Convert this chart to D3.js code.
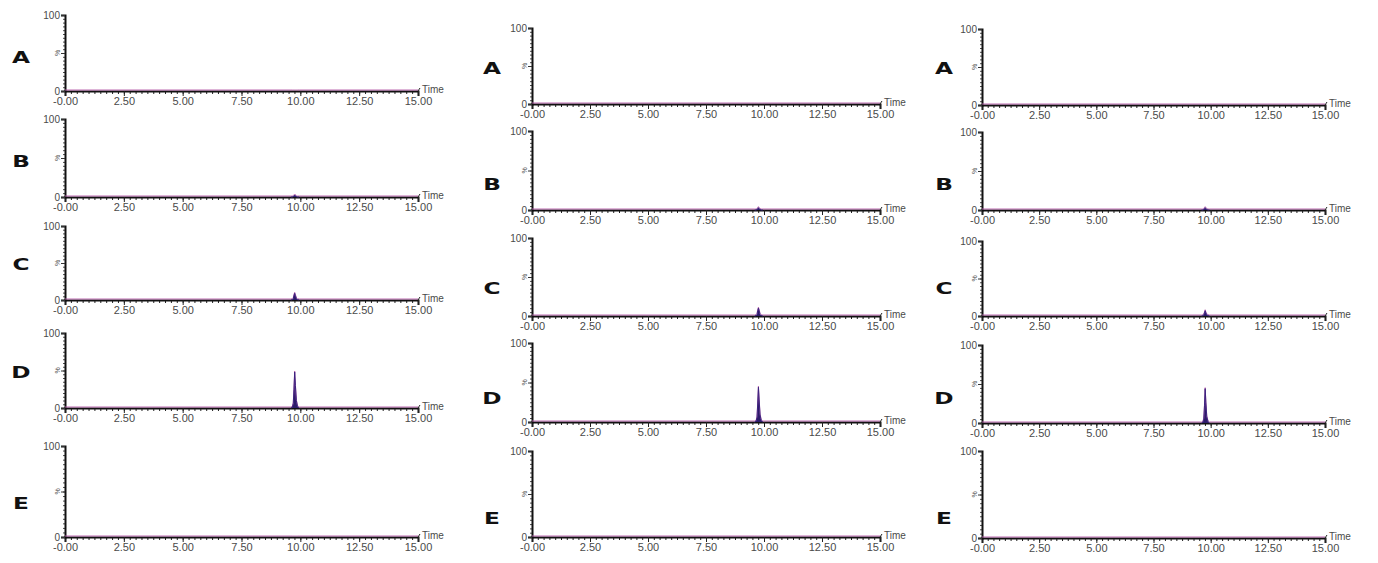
<!DOCTYPE html>
<html>
<head>
<meta charset="utf-8">
<script src="https://cdn.jsdelivr.net/npm/d3@7"></script>
<style>
  body { margin: 0; background: #fff; }
  svg { display: block; }
  .tick text { font-family: "Liberation Sans", Arial, sans-serif; fill: #4a4a4a; }
</style>
</head>
<body>
<div id="chart"></div>
<script>
// panel letters and x ticks
const panelLetters = ['A', 'B', 'C', 'D', 'E']
const timeTicks = [0, 2.5, 5, 7.5, 10, 12.5, 15]

// retention times around the peak (min)
const peakTimes = [9.60, 9.66, 9.70, 9.73, 9.76, 9.79, 9.83, 9.88, 9.95]

// relative intensity (%) per panel A..E, for each of the three columns
const leftColumn = [
  [0, 0, 0, 0, 0, 0, 0, 0, 0],
  [0, 0, 0.5, 1.5, 2.5, 1.5, 0.5, 0, 0],
  [0, 0.5, 2, 6, 9, 6, 2, 0.5, 0],
  [0, 1, 6, 25, 48, 30, 10, 2, 0],
  [0, 0, 0, 0, 0, 0, 0, 0, 0]
]
const middleColumn = [
  [0, 0, 0, 0, 0, 0, 0, 0, 0],
  [0, 0, 0.5, 2, 3, 2, 0.5, 0, 0],
  [0, 0.5, 2, 7, 10, 7, 2, 0.5, 0],
  [0, 1, 6, 24, 44, 28, 9, 2, 0],
  [0, 0, 0, 0, 0, 0, 0, 0, 0]
]
const rightColumn = [
  [0, 0, 0, 0, 0, 0, 0, 0, 0],
  [0, 0, 0.5, 2, 3, 2, 0.5, 0, 0],
  [0, 0.5, 1.5, 4, 7, 4, 1.5, 0.5, 0],
  [0, 1, 5, 22, 44, 26, 8, 2, 0],
  [0, 0, 0, 0, 0, 0, 0, 0, 0]
]
const columnsData = [leftColumn, middleColumn, rightColumn]

// layout (pixels)
const layout = [
  { x0: 65, x1: 418, labelX: 21,
    tops: [15, 119, 226, 333, 446], bases: [91, 197, 300, 408, 537],
    labelY: [57, 161, 264, 372, 503] },
  { x0: 532, x1: 880, labelX: 492,
    tops: [28, 131, 238, 343, 451], bases: [104, 210, 316, 422, 537],
    labelY: [68, 184, 288, 398, 518] },
  { x0: 982, x1: 1325, labelX: 944,
    tops: [29, 132, 241, 345, 451], bases: [105, 210, 316, 423, 538],
    labelY: [68, 184, 288, 398, 518] }
]

const svg = d3.select('#chart').append('svg')
  .attr('width', 1378)
  .attr('height', 563)

const minorTicks = d3.range(0, 61).map(i => i * 0.25)
const yMinor = d3.range(0, 21).map(i => i * 5)

columnsData.forEach((col, ci) => {
  const L = layout[ci]
  const x = d3.scaleLinear().domain([0, 15]).range([L.x0, L.x1])

  col.forEach((vals, ri) => {
    const y = d3.scaleLinear().domain([0, 100]).range([L.bases[ri], L.tops[ri]])
    const g = svg.append('g')

    // minor x ticks
    g.append('g')
      .attr('transform', `translate(0, ${L.bases[ri]})`)
      .call(d3.axisBottom(x).tickValues(minorTicks).tickSize(3).tickFormat(''))
      .call(a => a.select('.domain').remove())
      .call(a => a.selectAll('line').attr('stroke', '#222').attr('stroke-width', 1))

    // major x ticks with labels
    g.append('g')
      .attr('transform', `translate(0, ${L.bases[ri]})`)
      .call(d3.axisBottom(x).tickValues(timeTicks).tickSize(5).tickPadding(1)
        .tickFormat(d => d === 0 ? '-0.00' : d3.format('.2f')(d)))
      .call(a => a.select('.domain').attr('stroke', '#111').attr('stroke-width', 2))
      .call(a => a.selectAll('line').attr('stroke', '#222').attr('stroke-width', 1))
      .call(a => a.selectAll('text').attr('font-size', 11))

    // small hook at the end of the axis
    g.append('line')
      .attr('x1', x(15)).attr('x2', x(15) + 2)
      .attr('y1', L.bases[ri]).attr('y2', L.bases[ri] - 3)
      .attr('stroke', '#222')

    g.append('text')
      .attr('x', x(15) + 4)
      .attr('y', L.bases[ri] + 2)
      .attr('font-family', 'Liberation Sans, Arial, sans-serif')
      .attr('font-size', 10)
      .attr('fill', '#4a4a4a')
      .text('Time')

    // y axis with minor ticks
    g.append('g')
      .attr('transform', `translate(${L.x0}, 0)`)
      .call(d3.axisLeft(y).tickValues(yMinor).tickSize(2).tickFormat(''))
      .call(a => a.select('.domain').remove())
      .call(a => a.selectAll('line').attr('stroke', '#333').attr('stroke-width', 0.9))

    g.append('g')
      .attr('transform', `translate(${L.x0}, 0)`)
      .call(d3.axisLeft(y).tickValues([0, 50, 100]).tickSize(4).tickPadding(1)
        .tickFormat(d => d === 50 ? '' : d))
      .call(a => a.select('.domain').attr('stroke', '#111').attr('stroke-width', 2))
      .call(a => a.selectAll('line').attr('stroke', '#333'))
      .call(a => a.selectAll('text').attr('font-size', 10))

    // "%" label at mid height
    g.append('text')
      .attr('transform', `translate(${L.x0 - 5}, ${y(50)}) rotate(-90)`)
      .attr('text-anchor', 'middle')
      .attr('font-family', 'Liberation Sans, Arial, sans-serif')
      .attr('font-size', 7)
      .attr('fill', '#555')
      .text('%')

    // trace: baseline + peak
    const pts = [[0, 0]].concat(peakTimes.map((t, i) => [t, vals[i]]), [[15, 0]])
    const area = d3.area()
      .x(d => x(d[0]))
      .y0(y(0))
      .y1(d => y(d[1]))
    const line = d3.line()
      .x(d => x(d[0]))
      .y(d => y(d[1]) - 1)

    if (d3.max(vals) > 0) {
      g.append('path')
        .datum(peakTimes.map((t, i) => [t, vals[i]]))
        .attr('d', area)
        .attr('fill', '#2d1b69')
    }
    g.append('path')
      .datum(pts)
      .attr('d', line)
      .attr('fill', 'none')
      .attr('stroke', '#b45aa8')
      .attr('stroke-width', 0.9)
    if (d3.max(vals) > 0) {
      g.append('path')
        .datum(peakTimes.map((t, i) => [t, vals[i]]))
        .attr('d', d3.line().x(d => x(d[0])).y(d => y(d[1])))
        .attr('fill', 'none')
        .attr('stroke', '#3a2380')
        .attr('stroke-width', 1)
    }

    // panel letter
    g.append('text')
      .attr('transform', `translate(${L.labelX}, ${L.labelY[ri] + 6}) scale(1.55, 1)`)
      .attr('text-anchor', 'middle')
      .attr('font-family', 'DejaVu Sans, sans-serif')
      .attr('font-weight', 'bold')
      .attr('font-size', 15)
      .attr('fill', '#111')
      .text(panelLetters[ri])
  })
})
</script>
</body>
</html>
